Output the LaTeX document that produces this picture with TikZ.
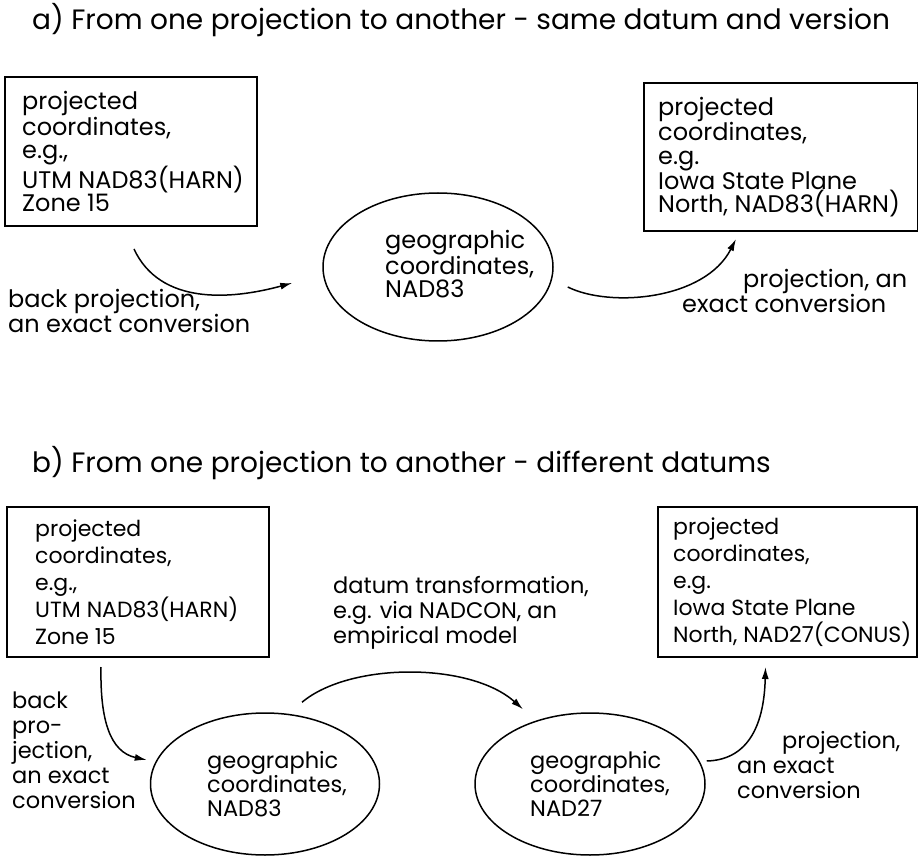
\documentclass[tikz,border=0pt]{standalone}
\usepackage{fontspec}
\setmainfont{Poppins}
\usetikzlibrary{arrows.meta,shapes.geometric}

\begin{document}
\begin{tikzpicture}[x=1pt,y=-1pt,
  box/.style={draw, line width=2pt, rectangle, anchor=north west, inner sep=0pt},
  blob/.style={draw, line width=1.5pt, ellipse, inner sep=0pt},
  conn/.style={line width=1.5pt, -{Latex[length=12pt,width=7pt]}},
  titlefont/.style={font=\fontsize{28}{32}\selectfont},
  sizeA/.style={font=\fontsize{24}{23.3}\selectfont},
  sizeAl/.style={font=\fontsize{24}{23.5}\selectfont},
  sizeB/.style={font=\fontsize{22}{27}\selectfont},
  sizeBe/.style={font=\fontsize{22.5}{24}\selectfont},
  sizeBl/.style={font=\fontsize{22.5}{25}\selectfont},
  lbl/.style={anchor=base west, align=left, inner sep=0pt},
  etext/.style={anchor=west, align=left, inner sep=0pt}
]
\useasboundingbox (0,0) rectangle (918,858);

% ---------- a) same datum and version ----------
\node[lbl, titlefont] (ta) at (32,30) {a) From one projection to another - same datum and version};

\node[box, minimum width=252pt, minimum height=149pt] (pa) at (4,76) {};
\node[etext, sizeA] (pat) at ([xshift=18pt]pa.west)
  {projected\\coordinates,\\e.g.,\\UTM NAD83(HARN)\\Zone 15};
\node[box, minimum width=274pt, minimum height=148pt] (pb) at (643,82) {};
\node[etext, sizeA] (pbt) at ([xshift=15pt]pb.west)
  {projected\\coordinates,\\e.g.\\Iowa State Plane\\North, NAD83(HARN)};

\node[blob, minimum width=230pt, minimum height=148pt] (ga) at (438,267) {};
\node[etext, sizeAl] (gat) at ([xshift=-53pt,yshift=3pt]ga.center) {geographic\\coordinates,\\NAD83};

\draw[conn] ([shift={(3,22)}]pa.south) .. controls (160,305) and (230,300) .. ([shift={(-30,16)}]ga.west);
\draw[conn] ([shift={(14,20)}]ga.east) .. controls (610,308) and (705,300) .. ([shift={(-45,7)}]pb.south);

\node[lbl, sizeAl] (la1) at (8,333) {back projection,\\an exact conversion};
\node[lbl, sizeAl] (la2) at (682,313) {\hspace*{61pt}projection, an\\exact conversion};

% ---------- b) different datums ----------
\node[lbl, titlefont] (tb) at (32,472) {b) From one projection to another - different datums};

\node[box, minimum width=262pt, minimum height=150pt] (pc) at (6,506) {};
\node[etext, sizeB] (pct) at ([xshift=29pt]pc.west)
  {projected\\coordinates,\\e.g.,\\UTM NAD83(HARN)\\Zone 15};
\node[box, minimum width=259pt, minimum height=150pt] (pd) at (657,506) {};
\node[etext, sizeB] (pdt) at ([xshift=16pt]pd.west)
  {projected\\coordinates,\\e.g.\\Iowa State Plane\\North, NAD27(CONUS)};

\node[blob, minimum width=229pt, minimum height=142pt] (gb) at (265,784) {};
\node[etext, sizeBe] (gbt) at ([xshift=-58pt]gb.center) {geographic\\coordinates,\\NAD83};
\node[blob, minimum width=230pt, minimum height=142pt] (gc) at (590,784) {};
\node[etext, sizeBe] (gct) at ([xshift=-60pt]gc.center) {geographic\\coordinates,\\NAD27};

\draw[conn] ([shift={(-37,9)}]pc.south) .. controls (100,720) and (110,752) .. ([shift={(-3,-24)}]gb.west);
\draw[conn] ([shift={(37,-10)}]gb.north) .. controls (350,662) and (470,662) .. ([shift={(-67,-3)}]gc.north);
\draw[conn] ([shift={(1,-23)}]gc.east) .. controls (745,760) and (764,730) .. ([shift={(-22,9)}]pd.south);

\node[lbl, sizeBl] (lb1) at (12,808) {back\\pro-\\jection,\\an exact\\conversion};
\node[lbl, sizeBl] (lb2) at (333,643) {datum transformation,\\e.g. via NADCON, an\\empirical model};
\node[lbl, sizeBl] (lb3) at (737,798) {\hspace*{45pt}projection,\\an exact\\conversion};
\end{tikzpicture}
\end{document}
